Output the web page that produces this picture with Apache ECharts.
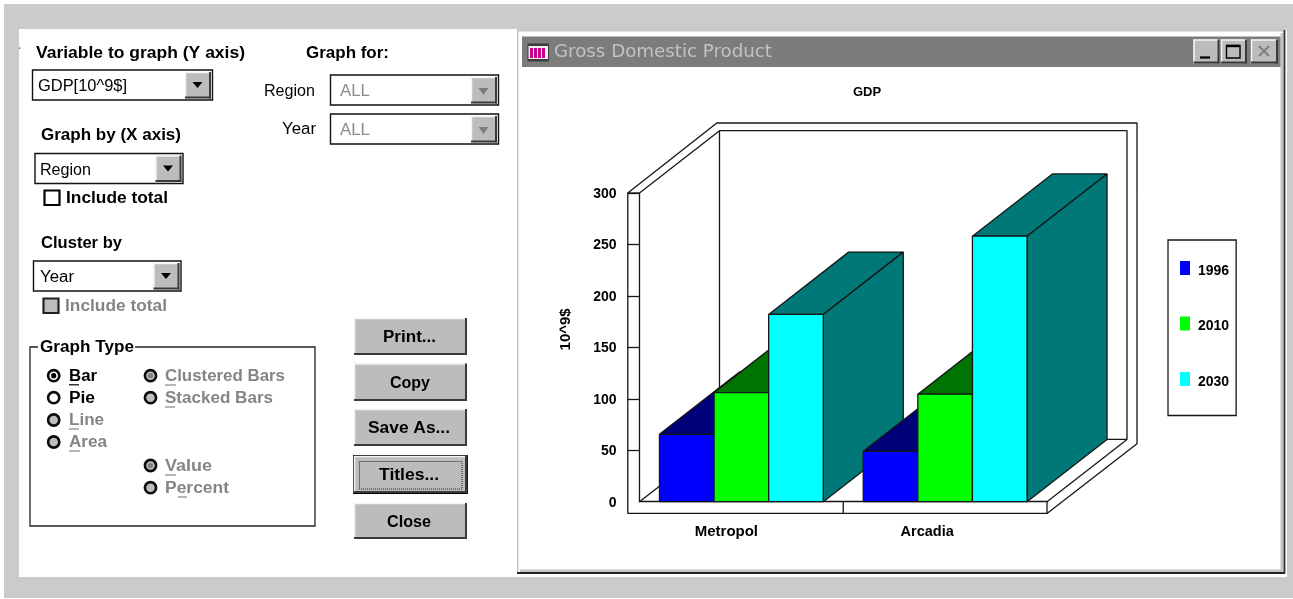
<!DOCTYPE html>
<html>
<head>
<meta charset="utf-8">
<title>Gross Domestic Product</title>
<script src="https://cdn.jsdelivr.net/npm/echarts@6/dist/echarts.min.js"></script>
<style>
html,body{margin:0;padding:0;background:#fff;}
#chart{width:1293px;height:599px;}
</style>
</head>
<body>
<div id="chart"></div>
<script>
// Chart data
const regions = ['Metropol', 'Arcadia'];
const years = ['1996', '2010', '2030'];
const gdp1996 = [65.5, 49];
const gdp2010 = [106, 104.5];
const gdp2030 = [182, 258];
const yTicks = [50, 100, 150, 200, 250, 300];

// Face colours per year: front, then top and side
const frontColors = ['#0000ff', '#00ff00', '#00ffff'];
const shadeColors = ['#000078', '#007400', '#007878'];

const SANS = '"Liberation Sans", Arial, sans-serif';
const INK = '#161616';
const FACE = '#bcbcbc';
const MUTED = '#858585';

const measure = document.createElement('canvas').getContext('2d');
const ui = [];

function box(x, y, w, h, fill, stroke, lw, extra) {
  ui.push(Object.assign({
    type: 'rect', z: -10, silent: true,
    shape: { x, y, width: w, height: h },
    style: { fill: fill || 'none', stroke: stroke || 'none', lineWidth: lw || 0 }
  }, extra || {}));
}
function seg(x1, y1, x2, y2, color, lw, dash) {
  ui.push({
    type: 'line', z: -9, silent: true,
    shape: { x1, y1, x2, y2 },
    style: { stroke: color || INK, lineWidth: lw || 1.3, lineDash: dash }
  });
}
// Text placed by its left edge and baseline, stretched to the wanted width
function label(str, left, right, baseline, size, weight, color, family) {
  const font = (weight || 'normal') + ' ' + size + 'px ' + (family || SANS);
  measure.font = font;
  const natural = measure.measureText(str).width;
  ui.push({
    type: 'text', z: -8, silent: true,
    x: left, y: baseline + 1 - 0.3465 * size,
    scaleX: (right - left) / natural,
    style: {
      text: str, x: 0, y: 0, align: 'left', verticalAlign: 'middle',
      fontFamily: family || SANS, fontSize: size, fontWeight: weight || 'normal',
      fill: color || '#000'
    }
  });
}
function bevel(x, y, w, h, lw) {
  box(x, y, w, h, FACE);
  seg(x, y + 0.5, x + w, y + 0.5, '#f4f4f4', lw || 1.5);
  seg(x + 0.5, y, x + 0.5, y + h, '#f4f4f4', lw || 1.5);
  seg(x, y + h - 1, x + w, y + h - 1, '#3a3a3a', lw || 2);
  seg(x + w - 1, y, x + w - 1, y + h, '#3a3a3a', lw || 2);
}
function combo(x, y, w, h, text, tl, tr, base, disabled) {
  box(x, y, w, h, '#fff', '#111', 1.4);
  const bw = 26, bx = x + w - bw - 1.5;
  bevel(bx, y + 2, bw, h - 3.5);
  const cx = bx + bw / 2 - 0.5, cy = y + h / 2;
  if (disabled) {
    ui.push({ type: 'polygon', z: -8, silent: true,
      shape: { points: [[cx - 5, cy - 2], [cx + 5, cy - 2], [cx, cy + 5]] },
      style: { fill: '#7c7c7c' } });
  } else {
    ui.push({ type: 'polygon', z: -8, silent: true,
      shape: { points: [[cx - 5, cy - 3], [cx + 5, cy - 3], [cx, cy + 3]] },
      style: { fill: '#000' } });
  }
  label(text, tl, tr, base, 16, 'normal', disabled ? '#8c8c8c' : '#000');
}
function radio(cx, cy, fill, dot) {
  ui.push({ type: 'circle', z: -8, silent: true,
    shape: { cx, cy, r: 5.6 },
    style: { fill, stroke: '#0c0c0c', lineWidth: 2.6 } });
  if (dot) {
    ui.push({ type: 'circle', z: -7, silent: true,
      shape: { cx, cy, r: 2.6 }, style: { fill: dot } });
  }
}
function push(text, x, y, w, h, tl, tr, base) {
  bevel(x, y, w, h);
  label(text, tl, tr, base, 16, 'bold', '#000');
}

// Page and panel
box(4, 4, 1289, 594, '#cbcbcb');
box(19, 29, 498, 548, '#ffffff');
box(19, 47.5, 1.2, 1.2, '#333');

// Dialog controls
label('Variable to graph (Y axis)', 36, 245, 58.4, 16, 'bold');
label('Graph for:', 306, 389, 58, 16, 'bold');
combo(32.5, 70, 180, 30, 'GDP[10^9$]', 38, 127, 91.5);
label('Region', 264, 315, 96, 16);
label('Year', 282, 316, 134, 16);
combo(330.5, 75, 168, 30, 'ALL', 340, 370, 96.5, true);
combo(330.5, 114, 168, 30, 'ALL', 340, 370, 135.5, true);

label('Graph by (X axis)', 41, 181, 140.4, 16, 'bold');
combo(35, 153.5, 148, 30, 'Region', 40, 91, 175);
box(44.5, 190.5, 15, 14.5, '#fff', '#000', 2.2);
label('Include total', 66, 168, 203.3, 16, 'bold');

label('Cluster by', 41, 122, 248.6, 16, 'bold');
combo(33.5, 261, 147.5, 30, 'Year', 40, 74, 282.5);
box(43.5, 298.5, 15, 14.5, '#bdbdbd', '#222', 2.2);
label('Include total', 65, 167, 311.5, 16, 'bold', MUTED);

// Graph type group
box(30, 347, 285, 179, 'none', '#222', 1.3);
box(38, 342, 97, 12, '#fff');
label('Graph Type', 40, 134, 352.5, 16, 'bold');

radio(53.7, 375.7, '#fff', '#000');
label('Bar', 69, 97, 381, 16, 'bold');
seg(69, 384.8, 79, 384.8, '#000', 1.2);
radio(53.7, 397.7, '#fff');
label('Pie', 69, 95, 403, 16, 'bold');
radio(53.7, 420, '#bdbdbd');
label('Line', 69, 104, 425.5, 16, 'bold', MUTED);
seg(69, 429, 79, 429, MUTED, 1.2);
radio(53.7, 442, '#bdbdbd');
label('Area', 69, 107, 447.5, 16, 'bold', MUTED);
seg(69, 451, 80, 451, MUTED, 1.2);

radio(150.5, 375.7, '#bdbdbd', '#808080');
label('Clustered Bars', 165, 285, 381, 16, 'bold', MUTED);
seg(165, 385, 176, 385, MUTED, 1.2);
radio(150.5, 397.7, '#bdbdbd');
label('Stacked Bars', 165, 273, 403.3, 16, 'bold', MUTED);
seg(165, 407, 175, 407, MUTED, 1.2);
radio(150.5, 465.5, '#bdbdbd', '#808080');
label('Value', 165, 212, 471, 16, 'bold', MUTED);
seg(165, 475, 176, 475, MUTED, 1.2);
radio(150.5, 487.7, '#bdbdbd');
label('Percent', 165, 229, 493.3, 16, 'bold', MUTED);
seg(178, 497, 187, 497, MUTED, 1.2);

// Push buttons
push('Print...', 354, 318, 113, 37, 383, 436, 342);
push('Copy', 354, 363.5, 113, 37.5, 390, 430, 388);
push('Save As...', 354, 409, 113, 37, 368, 450, 433);
bevel(354, 456, 113, 37);
box(354, 456, 113, 37, 'none', '#000', 1.8);
box(359.5, 461.5, 102.5, 27.5, 'none', '#222', 1, { style: { fill: 'none', stroke: '#222', lineWidth: 1, lineDash: [1, 1] } });
label('Titles...', 379, 439, 480.5, 16, 'bold');
push('Close', 354, 503, 113, 36, 387, 431, 527);

// Graph window frame: white edge on the left and top, grey band on the right and bottom
box(517, 30, 770, 547, '#ffffff');
box(517, 30, 768, 544, '#c4c4c4');
box(518.5, 31.5, 765, 541, '#ffffff');
box(1280.5, 33, 3, 538, '#c4c4c4');
box(520, 569.5, 763.5, 3, '#c4c4c4');
seg(517, 573, 1285, 573, '#222', 1.8);
seg(1284.5, 30, 1284.5, 574, '#333', 1.8);
box(522, 36.5, 758.5, 30.5, '#7c7c7c');
box(527.5, 43.5, 21.5, 18, '#3c3c3c');
box(528.5, 46, 19.5, 13, '#f0f0f0');
box(530, 48, 3, 10, '#c8008c');
box(534, 48, 3, 10, '#c8008c');
box(538, 48, 3, 10, '#c8008c');
box(542, 48, 3, 10, '#c8008c');
label('Gross Domestic Product', 554, 772, 58, 18, 'normal', '#c2c2c2', '"DejaVu Sans", sans-serif');

// Caption buttons
bevel(1193.5, 39.5, 26, 24);
seg(1200, 57.5, 1210, 57.5, '#000', 2.2);
bevel(1221, 39.5, 26, 24);
box(1226.5, 45.5, 13.5, 12.5, 'none', '#000', 1.4);
seg(1226.5, 46, 1240, 46, '#000', 2.4);
bevel(1251, 39.5, 27, 24);
seg(1259, 46, 1269, 56, '#808080', 2.2);
seg(1269, 46, 1259, 56, '#808080', 2.2);

// Box drawn around the plot: outer wall, floor slab and back wall
const FRAME = { lineWidth: 1.3, stroke: INK, fill: '#fff', lineJoin: 'bevel' };
const DEPTH_X = 80, DEPTH_Y = -62.3;
const OUTER_X = 90, OUTER_Y = -70;
const WALL = 11.7;

function renderFrame(params, api) {
  const c = params.coordSys;
  const L = c.x, R = c.x + c.width, T = c.y, B = c.y + c.height;
  const OL = L - WALL, FB = B + WALL;
  const mid = L + api.size([1, 0])[0];
  const poly = pts => ({ type: 'polygon', shape: { points: pts }, style: FRAME });
  const ln = (a, b) => ({ type: 'line', shape: { x1: a[0], y1: a[1], x2: b[0], y2: b[1] }, style: { stroke: INK, lineWidth: 1.3 } });
  return {
    type: 'group',
    children: [
      // Shell of the far walls
      poly([[OL, T], [OL + OUTER_X - 1, T + OUTER_Y], [R + OUTER_X, T + OUTER_Y],
            [R + OUTER_X, B + OUTER_Y + WALL + 0.3], [R, FB], [OL, FB]]),
      // Back wall
      poly([[L + DEPTH_X, T + DEPTH_Y], [R + DEPTH_X, T + DEPTH_Y], [R + DEPTH_X, B + DEPTH_Y], [L + DEPTH_X, B + DEPTH_Y]]),
      ln([L, T], [L + DEPTH_X, T + DEPTH_Y]),
      ln([L, B], [L + DEPTH_X, B + DEPTH_Y]),
      ln([R, B], [R + DEPTH_X, B + DEPTH_Y]),
      ln([OL, T], [L, T]),
      ln([R, B], [R, FB]),
      ln([mid, B], [mid, FB])
    ]
  };
}

// One 3D block per data point; later regions and later years paint over earlier ones
function renderBlock(yearIndex) {
  return function (params, api) {
    const cat = api.value(0);
    const base = api.coord([cat, 0]);
    const top = api.coord([cat, api.value(1)]);
    const w = api.size([1, 0])[0] * 0.268;
    const x0 = base[0] - 1.5 * w + yearIndex * w;
    const x1 = x0 + w;
    const z2 = cat * 10 + yearIndex;
    const style = fill => ({ fill, stroke: INK, lineWidth: 1.3, lineJoin: 'bevel' });
    return {
      type: 'group',
      children: [
        { type: 'polygon', z2, style: style(shadeColors[yearIndex]),
          shape: { points: [[x0, top[1]], [x0 + DEPTH_X, top[1] + DEPTH_Y], [x1 + DEPTH_X, top[1] + DEPTH_Y], [x1, top[1]]] } },
        { type: 'polygon', z2, style: style(shadeColors[yearIndex]),
          shape: { points: [[x1, top[1]], [x1 + DEPTH_X, top[1] + DEPTH_Y], [x1 + DEPTH_X, base[1] + DEPTH_Y], [x1, base[1]]] } },
        { type: 'rect', z2, style: style(frontColors[yearIndex]),
          shape: { x: x0, y: top[1], width: w, height: base[1] - top[1] } }
      ]
    };
  };
}

const gdpSeries = [gdp1996, gdp2010, gdp2030].map((vals, i) => ({
  type: 'custom',
  name: years[i],
  coordinateSystem: 'cartesian2d',
  renderItem: renderBlock(i),
  itemStyle: { color: frontColors[i] },
  encode: { x: 0, y: 1 },
  silent: true,
  z: 3,
  data: vals.map((v, c) => [c, v])
}));

const boldTick = { fontFamily: SANS, fontSize: 14, fontWeight: 'bold', color: '#000' };

const chart = echarts.init(document.getElementById('chart'), null, { renderer: 'canvas' });
chart.setOption({
  animation: false,
  backgroundColor: '#ffffff',
  graphic: { elements: ui },
  title: {
    text: 'GDP', left: 853, top: 86, padding: 0,
    textStyle: { fontFamily: SANS, fontSize: 13, fontWeight: 'bold', color: '#000' }
  },
  legend: {
    data: years, orient: 'vertical', left: 1168, top: 240,
    padding: [21, 7, 26.5, 12], itemWidth: 10, itemHeight: 14, itemGap: 38.5,
    icon: 'rect', borderColor: INK, borderWidth: 1.3, backgroundColor: '#fff',
    selectedMode: false,
    formatter: name => '{y|' + name + '}',
    textStyle: { rich: { y: Object.assign({ padding: [6, 0, 0, 3] }, boldTick) } }
  },
  grid: { left: 639.5, top: 193, width: 407.5, height: 308.7, containLabel: false },
  xAxis: {
    type: 'category', data: regions,
    axisLine: { show: true, lineStyle: { color: INK, width: 1.3 } },
    axisTick: { show: false },
    axisLabel: {
      margin: 23,
      formatter: (v, i) => '{r' + i + '|' + v + '}',
      rich: {
        r0: { fontFamily: SANS, fontSize: 15, fontWeight: 'bold', color: '#000', padding: [0, 30, 0, 0] },
        r1: { fontFamily: SANS, fontSize: 14.5, fontWeight: 'bold', color: '#000', padding: [0, 36, 0, 0] }
      }
    }
  },
  yAxis: {
    type: 'value', min: 0, max: 300, interval: 50,
    name: '10^9$', nameLocation: 'middle', nameGap: 66, nameRotate: 90,
    nameTextStyle: { fontFamily: SANS, fontSize: 15, fontWeight: 'bold', color: '#000', padding: [0, 0, 0, 36] },
    splitLine: { show: false },
    axisLine: { show: true, lineStyle: { color: INK, width: 1.3 } },
    axisTick: { show: true, length: 11.7, customValues: yTicks, lineStyle: { color: INK, width: 1.3 } },
    axisLabel: {
      margin: 23,
      formatter: v => '{t|' + v + '}',
      rich: { t: Object.assign({ padding: [2, 0, 0, 0] }, boldTick) }
    }
  },
  series: [{
    type: 'custom', name: 'frame', coordinateSystem: 'cartesian2d',
    renderItem: renderFrame, silent: true, z: -5,
    encode: { x: 0, y: 1 }, data: [[0, 0]]
  }].concat(gdpSeries)
});
</script>
</body>
</html>
